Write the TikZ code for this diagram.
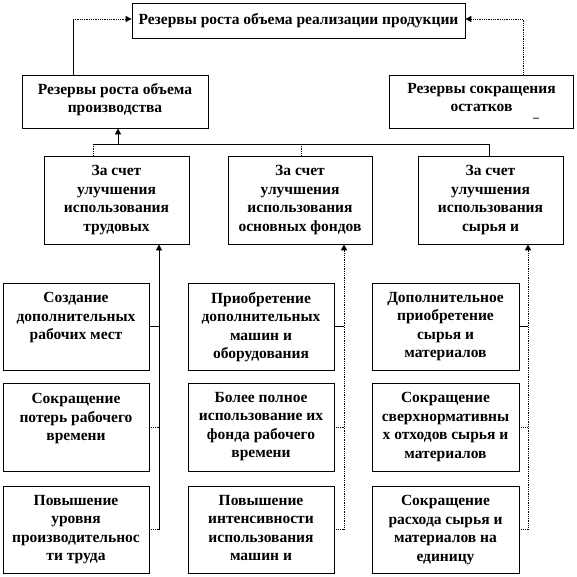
\documentclass[tikz,border=0pt]{standalone}
\usepackage{fontspec}
\setmainfont{Liberation Serif}
\usetikzlibrary{arrows.meta}
\begin{document}
\begin{tikzpicture}[x=1pt,y=-1pt,
  box/.style={draw,line width=0.8pt,fill=white,inner sep=0pt,rectangle},
  txt/.style={align=center,inner sep=0pt,anchor=north,font=\fontsize{15.5}{18.5}\selectfont\bfseries},
  solidline/.style={line width=0.8pt},
  dotline/.style={line width=1pt,dash pattern=on 1pt off 0.8pt},
  arr/.style={-{Triangle[length=6pt,width=6pt]}}
]
\useasboundingbox (0,0) rectangle (577,576);
% top level
\node[box,minimum width=333pt,minimum height=35pt] (top) at (298.5,20.5) {};
\node[txt] (ttop) at ([yshift=-11pt]top.north) {Резервы роста объема реализации продукции};
\node[box,minimum width=186pt,minimum height=53pt] (L) at (115,101.5) {};
\node[txt] (tL) at ([yshift=-8.5pt]L.north) {Резервы роста объема\\производства};
\node[box,minimum width=184pt,minimum height=53pt] (R) at (481.5,101.5) {};
\node[txt] (tR) at ([yshift=-8.5pt]R.north) {Резервы сокращения\\остатков};
\node[inner sep=0pt,font=\fontsize{12}{12}\selectfont\bfseries] (dash) at (536,120) {–};
% middle row
\node[box,minimum width=145pt,minimum height=88pt] (A) at (116.5,200) {};
\node[box,minimum width=144pt,minimum height=88pt] (B) at (300,200) {};
\node[box,minimum width=145pt,minimum height=88pt] (C) at (490.5,200) {};
\node[txt] (tA) at ([yshift=-9.5pt]A.north) {За счет\\улучшения\\использования\\трудовых};
\node[txt] (tB) at ([yshift=-9.5pt]B.north) {За счет\\улучшения\\использования\\основных фондов};
\node[txt] (tC) at ([yshift=-9.5pt]C.north) {За счет\\улучшения\\использования\\сырья и};
% bottom boxes
\node[box,minimum width=146pt,minimum height=87pt] (a1) at (76,326.5) {};
\node[box,minimum width=146pt,minimum height=88pt] (a2) at (76,427) {};
\node[box,minimum width=146pt,minimum height=87pt] (a3) at (76,529.5) {};
\node[box,minimum width=146pt,minimum height=87pt] (b1) at (261,326.5) {};
\node[box,minimum width=146pt,minimum height=88pt] (b2) at (261,427) {};
\node[box,minimum width=146pt,minimum height=87pt] (b3) at (261,529.5) {};
\node[box,minimum width=147pt,minimum height=87pt] (c1) at (445.5,326.5) {};
\node[box,minimum width=147pt,minimum height=88pt] (c2) at (445.5,427) {};
\node[box,minimum width=147pt,minimum height=87pt] (c3) at (445.5,529.5) {};
\node[txt] (ta1) at ([yshift=-9.5pt]a1.north) {Создание\\дополнительных\\рабочих мест};
\node[txt] (ta2) at ([yshift=-10.5pt]a2.north) {Сокращение\\потерь рабочего\\времени};
\node[txt] (ta3) at ([yshift=-9.5pt]a3.north) {Повышение\\уровня\\производительнос\\ти труда};
\node[txt] (tb1) at ([yshift=-9.5pt]b1.north) {Приобретение\\дополнительных\\машин и\\оборудования};
\node[txt] (tb2) at ([yshift=-9.5pt]b2.north) {Более полное\\использование их\\фонда рабочего\\времени};
\node[txt] (tb3) at ([yshift=-9.5pt]b3.north) {Повышение\\интенсивности\\использования\\машин и};
\node[txt] (tc1) at ([yshift=-9.5pt]c1.north) {Дополнительное\\приобретение\\сырья и\\материалов};
\node[txt] (tc2) at ([yshift=-9.5pt]c2.north) {Сокращение\\сверхнормативны\\х отходов сырья и\\материалов};
\node[txt] (tc3) at ([yshift=-9.5pt]c3.north) {Сокращение\\расхода сырья и\\материалов на\\единицу};
% connectors top
\coordinate (lt) at (73,19);
\coordinate (rt) at (523,19);
\draw[solidline] (L.north -| lt) -- (lt);
\draw[dotline,arr] (lt) -- (top.west |- lt);
\draw[dotline,arr] (R.north -| rt) -- (rt) -- (top.east |- rt);
% bar
\coordinate (bl) at (93,144);
\coordinate (bm) at (301,144);
\coordinate (br) at (489,144);
\coordinate (ba) at (118,144);
\draw[solidline] (bl) -- (br);
\draw[solidline,arr] (ba) -- (L.south -| ba);
\draw[dotline] (bl) -- (A.north -| bl);
\draw[dotline] (bm) -- (B.north -| bm);
\draw[solidline] (br) -- (C.north -| br);
% verticals
\coordinate (v1) at (159,529.5);
\coordinate (v2) at (344,529.5);
\coordinate (v3) at (528,529.5);
\draw[solidline,arr] (v1) -- (A.south -| v1);
\draw[dotline,arr] (v2) -- (B.south -| v2);
\draw[dotline,arr] (v3) -- (C.south -| v3);
\draw[solidline] (a1.east) -- (a1.east -| v1);
\draw[dotline] (a2.east) -- (a2.east -| v1);
\draw[dotline] (a3.east) -- (a3.east -| v1);
\draw[solidline] (b1.east) -- (b1.east -| v2);
\draw[dotline] (b2.east) -- (b2.east -| v2);
\draw[dotline] (b3.east) -- (b3.east -| v2);
\draw[solidline] (c1.east) -- (c1.east -| v3);
\draw[dotline] (c2.east) -- (c2.east -| v3);
\draw[dotline] (c3.east) -- (c3.east -| v3);
\end{tikzpicture}
\end{document}
